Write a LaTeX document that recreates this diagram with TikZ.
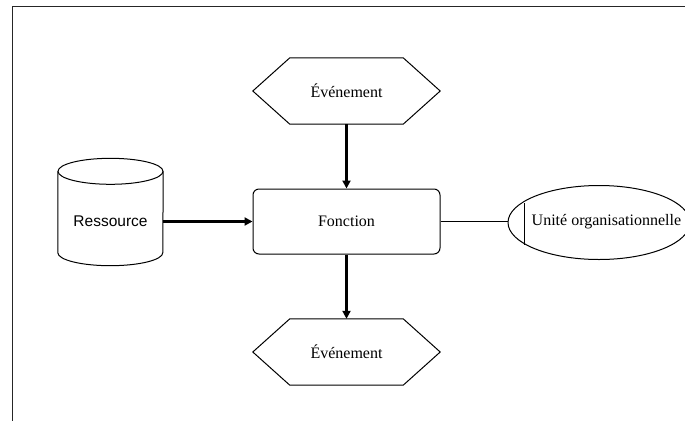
\documentclass[tikz,border=0pt]{standalone}
\usepackage{fontspec}
\setmainfont{Liberation Serif}
\newfontfamily\arialfont{Liberation Sans}
\usetikzlibrary{arrows.meta,shapes.geometric,calc}

\tikzset{
  frameline/.style={draw=black!85, line width=1.3pt},
  shapeline/.style={draw=black, line width=1pt},
  eventbox/.style={minimum width=187pt, minimum height=66pt, inner sep=0pt,
                   font=\fontsize{16}{19}\selectfont},
  funcbox/.style={shapeline, rounded corners=6pt, minimum width=187pt,
                  minimum height=65pt, inner sep=0pt,
                  font=\fontsize{16}{19}\selectfont},
  resbox/.style={minimum width=105pt, minimum height=107pt, inner sep=0pt},
  reslabel/.style={inner sep=0pt, font=\arialfont\fontsize{15.5}{18}\selectfont},
  orgshape/.style={shapeline, ellipse, minimum width=182pt, minimum height=74pt,
                   inner sep=0pt},
  orglabel/.style={inner sep=0pt, font=\fontsize{16}{19}\selectfont},
  flow/.style={draw=black, line width=2.4pt,
               -{Triangle[length=8pt,width=8pt]}},
  link/.style={draw=black, line width=1pt}
}

\begin{document}
\begin{tikzpicture}[x=1pt, y=-1pt]
  \clip (0,0) rectangle (685,421);
  \fill[white] (0,0) rectangle (685,421);

  % outer frame (top and left edges)
  \draw[frameline] (685,6.5) -- (12.5,6.5) -- (12.5,421);

  % events
  \node[eventbox] (ev1) at (346.5,91) {Événement};
  \node[eventbox] (ev2) at (346.5,352) {Événement};
  \foreach \e in {ev1,ev2}{
    \draw[shapeline] (\e.west) -- ($(\e.north west)+(37,0)$)
      -- ($(\e.north east)+(-37,0)$) -- (\e.east)
      -- ($(\e.south east)+(-37,0)$) -- ($(\e.south west)+(37,0)$) -- cycle;
  }

  % function
  \node[funcbox] (fn) at (346.5,221.5) {Fonction};

  % resource cylinder
  \node[resbox] (res) at (110.5,212) {};
  \node[reslabel] (restxt) at (110.5,221) {Ressource};
  \draw[shapeline] ($(res.north west)+(0,13)$) -- ($(res.south west)+(0,-13)$)
    arc[start angle=180, end angle=360, x radius=52.5, y radius=-13]
    -- ($(res.north east)+(0,13)$);
  \draw[shapeline] ($(res.north)+(0,13)$) ellipse[x radius=52.5, y radius=13];

  % organisational unit
  \node[orgshape] (org) at (599,222.5) {};
  \node[orglabel, anchor=west] (orgtxt) at (531.5,222) {Unité organisationnelle};
  \coordinate (barT) at (524,203);
  \coordinate (barB) at (524,245);
  \draw[link] (barT) -- (barB);

  % connectors
  \draw[flow] (ev1.south) -- (fn.north);
  \draw[flow] (fn.south) -- (ev2.north);
  \draw[flow] (res.east |- fn.west) -- (fn.west);
  \draw[link] (fn.east) -- (fn.east -| org.west);
\end{tikzpicture}
\end{document}
